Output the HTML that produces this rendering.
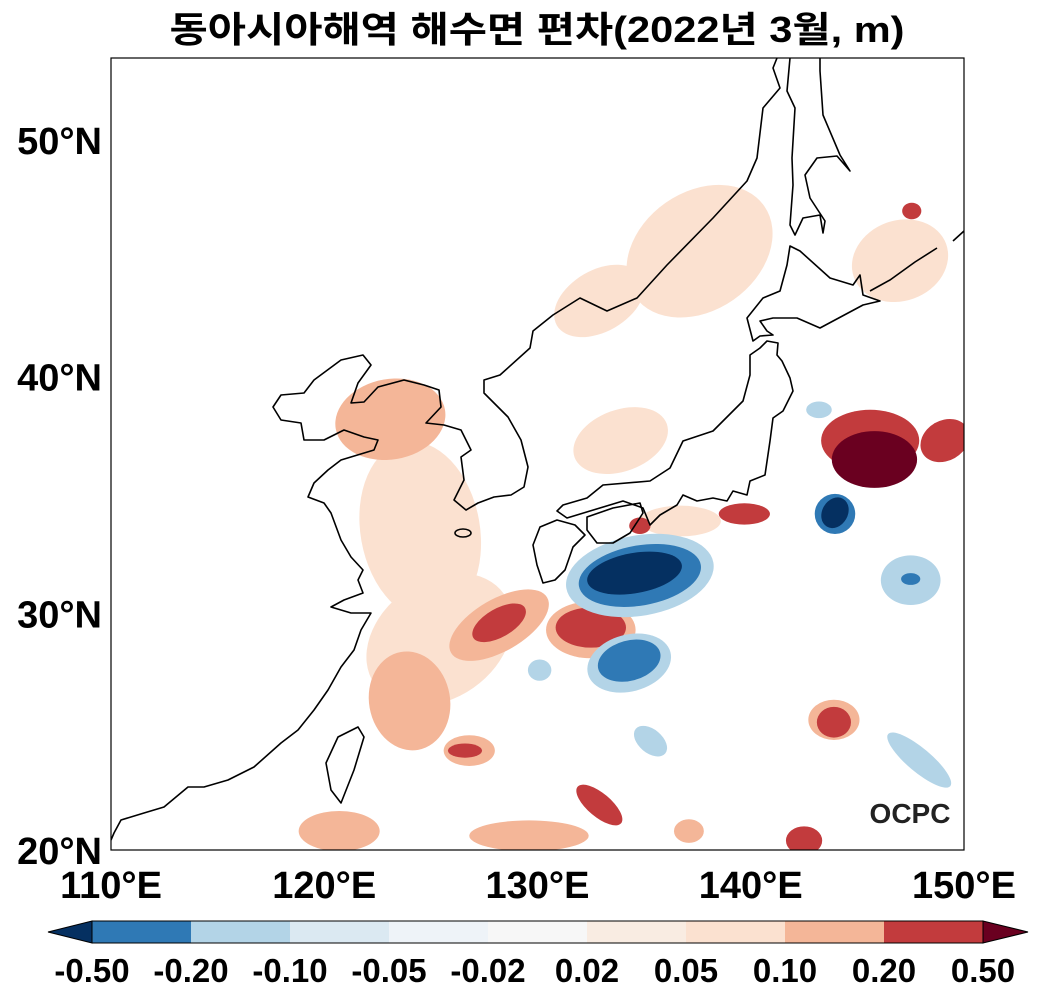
<!DOCTYPE html>
<html><head><meta charset="utf-8"><style>
body{margin:0;background:#fff;width:1038px;height:999px;overflow:hidden;font-family:"Liberation Sans","Noto Sans CJK KR",sans-serif}
svg text{font-family:"Liberation Sans","Noto Sans CJK KR",sans-serif;font-weight:bold}
</style></head><body>
<svg id="c" width="1038" height="999">
<text x="537" y="42" font-size="36" text-anchor="middle" textLength="735" lengthAdjust="spacingAndGlyphs">동아시아해역 해수면 편차(2022년 3월, m)</text>
<defs><clipPath id="pc"><rect x="111" y="58" width="853" height="792"/></clipPath></defs>
<g id="blobs" clip-path="url(#pc)"></g>
<g clip-path="url(#pc)" fill="none" stroke="#000" stroke-width="1.6" stroke-linejoin="round">
<polyline points="777,58 773,68 780,88 763,108 757,158 747,181 713,218 667,265 637,298 607,311 580,298 553,315 533,331 530,348 500,375 484,380 484,393 508,417 521,440 528,467 524,487 511,495 494,497 478,503 466,510 454,500 464,480 461,457 471,450 461,430 444,425 426,423 441,407 439,390 424,385 404,380 378,387 364,402 351,403 358,383 371,365 363,355 341,360 314,380 304,393 281,395 273,407 281,420 301,423 304,440 324,440 344,430 364,437 378,440 374,450 341,460 328,470 314,483 308,497 324,503 331,513 341,540 351,557 363,570 358,580 363,593 344,600 331,607 351,613 371,613 361,630 354,650 341,667 328,690 314,710 298,730 281,743 254,767 228,780 204,787 188,787 164,807 144,813 121,820 114,833 111,840"/>
<polygon points="760,348 767,341 778,343 777,355 782,361 790,378 793,391 783,411 773,418 770,441 765,475 750,481 747,495 733,491 727,501 713,498 697,501 683,495 677,505 660,515 650,525 643,508 623,501 590,511 567,518 557,511 563,505 587,498 603,485 650,481 670,468 683,441 713,431 743,401 750,375 750,355"/>
<polygon points="557,520 540,527 533,545 537,565 543,583 555,580 565,570 573,547 585,535 575,525"/>
<polygon points="587,517 613,508 640,503 643,513 630,533 613,543 597,543 587,530"/>
<polygon points="790,246 800,251 830,278 853,285 860,275 863,295 880,301 863,305 820,328 797,318 773,318 760,321 767,331 773,335 760,336 753,341 747,318 763,298 780,291 787,265"/>
<polyline points="790,58 787,91 795,108 792,158 793,185 790,225 795,235 803,218 820,215 823,233 825,221 810,198 805,175 817,158 837,156 850,171 840,155 823,115 820,71 820,58"/>
<polyline points="870,291 890,280 915,262 937,248"/>
<polyline points="953,241 964,231"/>
<polygon points="358,727 364,737 354,770 341,803 331,790 326,763 338,737"/>
<ellipse cx="463" cy="533" rx="8" ry="4"/>
</g>
<rect x="111" y="58" width="853" height="792" fill="none" stroke="#000" stroke-width="1.2"/>
<g id="axes" font-size="38"></g>
<g id="cbar"></g>
<text x="910" y="823" font-size="28" text-anchor="middle" fill="#222">OCPC</text>
</svg>
<script>
const NS='http://www.w3.org/2000/svg';
const lonMin=110,lonMax=150,latMin=20,latMax=50;
const X=lon=>111+(lon-lonMin)*853/(lonMax-lonMin);
const Y=lat=>850-(lat-latMin)*710/(latMax-latMin);
const levelColors=['#053061','#2f79b5','#b3d4e7','#dbe9f2','#eef3f8','#f7f7f7','#f9ece2','#fbe1d0','#f4b698','#c23b3d','#6a0020'];
// anomaly patches: centre lon/lat, radius in degrees, colour level, rotation
const blobLon=[137.6,132.9,124.5,125.4,133.9,147,136.7,
 123.1,124,120.7,129.6,128.2,132.5,143.9,137.1,126.8,
 145.6,149.1,128.2,132.5,139.7,143.9,132.9,142.5,147.55,126.6,134.8,
 145.8,
 134.8,134.3,147.5,147.9,143.2,130.1,135.3,
 134.8,134.3,143.95,147.5,
 134.55,143.95];
const blobLat=[45.3,43.2,33.5,28.9,37.3,44.9,33.9,
 38.2,26.3,20.8,20.6,29.5,29.3,25.5,20.8,24.2,
 37.3,37.3,29.6,29.4,34.2,25.4,21.9,20.4,47,24.2,33.7,
 36.5,
 31.6,27.9,31.4,23.8,38.6,27.6,24.6,
 31.6,28,34.2,31.45,
 31.7,34.25];
const blobRlon=[3.7,2.3,2.8,3.7,2.3,2.3,1.9,
 2.6,1.9,1.9,2.8,2.6,2.1,1.2,0.7,1.2,
 2.3,1.2,1.4,1.65,1.2,0.8,0.55,0.85,0.45,0.8,0.5,
 2,
 3.5,2,1.4,1.9,0.6,0.55,0.9,
 2.9,1.5,0.95,0.45,
 2.25,0.6];
const blobRlat=[2.5,1.3,3.8,2.5,1.3,1.7,0.65,
 1.7,2.1,0.85,0.65,1.1,1.2,0.85,0.5,0.65,
 1.3,0.85,0.6,0.85,0.45,0.65,1.2,0.6,0.35,0.3,0.35,
 1.2,
 1.7,1.2,1.05,0.5,0.35,0.45,0.5,
 1.27,0.85,0.85,0.25,
 0.85,0.68];
const blobLevel=[7,7,7,7,7,7,7,
 8,8,8,8,8,8,8,8,8,
 9,9,9,9,9,9,9,9,9,9,9,
 10,
 2,2,2,2,2,2,2,
 1,1,1,1,
 0,0];
const blobRot=[-35,-30,-10,-35,-20,-20,0,
 -10,-10,0,0,-30,0,0,0,0,
 0,-30,-30,0,0,0,-50,0,0,0,0,
 0,
 -10,-15,0,40,0,0,40,
 -10,-15,0,0,
 -10,30];
const bg=document.getElementById('blobs');
for(let i=0;i<blobLon.length;i++){
 const e=document.createElementNS(NS,'ellipse');
 const cx=X(blobLon[i]),cy=Y(blobLat[i]);
 e.setAttribute('cx',cx);e.setAttribute('cy',cy);
 e.setAttribute('rx',blobRlon[i]*853/40);e.setAttribute('ry',blobRlat[i]*710/30);
 e.setAttribute('fill',levelColors[blobLevel[i]]);
 e.setAttribute('transform',`rotate(${blobRot[i]} ${cx} ${cy})`);
 
 
 bg.appendChild(e);
}
const xTicks=[110,120,130,140,150];
const xTickLabels=['110°E','120°E','130°E','140°E','150°E'];
const yTicks=[20,30,40,50];
const yTickLabels=['20°N','30°N','40°N','50°N'];
const ax=document.getElementById('axes');
xTicks.forEach((v,i)=>{const t=document.createElementNS(NS,'text');t.setAttribute('x',X(v));t.setAttribute('y',898);t.setAttribute('text-anchor','middle');t.textContent=xTickLabels[i];

ax.appendChild(t);});
yTicks.forEach((v,i)=>{const t=document.createElementNS(NS,'text');t.setAttribute('x',102);t.setAttribute('y',Y(v)+14);t.setAttribute('text-anchor','end');t.textContent=yTickLabels[i];

ax.appendChild(t);});
const cbLabels=['-0.50','-0.20','-0.10','-0.05','-0.02','0.02','0.05','0.10','0.20','0.50'];
const cbColors=['#2f79b5','#b3d4e7','#dbe9f2','#eef3f8','#f7f7f7','#f9ece2','#fbe1d0','#f4b698','#c23b3d'];
const cb=document.getElementById('cbar');
const cx0=92,cw=99,cy0=921,ch=22;
const lt=document.createElementNS(NS,'polygon');lt.setAttribute('points',`${cx0},${cy0} ${cx0},${cy0+ch} 48,${cy0+ch/2}`);lt.setAttribute('fill','#053061');lt.setAttribute('stroke','#000');

cb.appendChild(lt);
const x1=cx0+cw*cbColors.length;
const rt=document.createElementNS(NS,'polygon');rt.setAttribute('points',`${x1},${cy0} ${x1},${cy0+ch} 1028,${cy0+ch/2}`);rt.setAttribute('fill','#6a0020');rt.setAttribute('stroke','#000');

cb.appendChild(rt);
cbColors.forEach((c,i)=>{const r=document.createElementNS(NS,'rect');r.setAttribute('x',cx0+i*cw);r.setAttribute('y',cy0);r.setAttribute('width',cw);r.setAttribute('height',ch);r.setAttribute('fill',c);

cb.appendChild(r);});
const fr=document.createElementNS(NS,'rect');fr.setAttribute('x',cx0);fr.setAttribute('y',cy0);fr.setAttribute('width',cw*cbColors.length);fr.setAttribute('height',ch);fr.setAttribute('fill','none');fr.setAttribute('stroke','#000');

cb.appendChild(fr);
cbLabels.forEach((l,i)=>{const t=document.createElementNS(NS,'text');t.setAttribute('x',cx0+i*cw);t.setAttribute('y',982);t.setAttribute('text-anchor','middle');t.setAttribute('font-size','33');t.textContent=l;

cb.appendChild(t);});
</script>
</body></html>
